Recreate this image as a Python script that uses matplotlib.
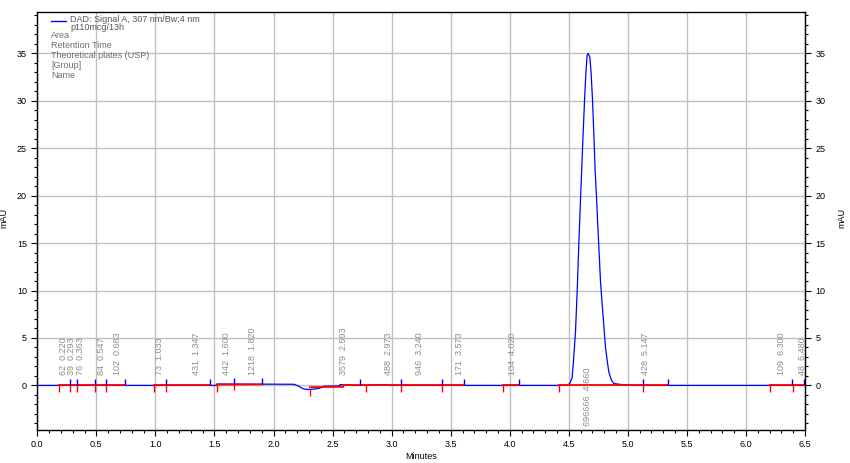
import numpy as np
import matplotlib
matplotlib.use("Agg")
import matplotlib.pyplot as plt
from matplotlib.ticker import MultipleLocator

plt.rcParams['font.family'] = ['Liberation Sans', 'DejaVu Sans']

# Signal trace (minutes, mAU)
sig_t = [0.00, 1.52, 1.521, 2.17, 2.20, 2.23, 2.25, 2.28, 2.31, 2.35, 2.39, 2.42, 2.43,
         2.56, 2.561, 2.64, 2.641, 2.82, 2.821, 2.98, 2.981, 4.486, 4.508, 4.528, 4.542,
         4.556, 4.571, 4.585, 4.599, 4.610, 4.621, 4.633, 4.644, 4.655, 4.664, 4.678,
         4.689, 4.701, 4.712, 4.723, 4.734, 4.746, 4.757, 4.768, 4.782, 4.797, 4.811,
         4.825, 4.839, 4.859, 4.881, 4.938, 5.00, 5.05, 6.50]
sig_y = [0.0, 0.0, 0.15, 0.12, 0.0, -0.2, -0.35, -0.42, -0.42, -0.38, -0.3, -0.15, -0.08,
         -0.06, 0.08, 0.08, 0.0, 0.0, 0.08, 0.08, 0.0, 0.0, 0.2, 0.8, 3.0,
         5.5, 10.0, 15.0, 19.6, 23.0, 26.5, 30.0, 32.8, 34.8, 35.0, 34.6,
         32.9, 30.0, 26.5, 22.6, 20.0, 16.7, 13.9, 11.0, 8.6, 6.2, 4.0,
         2.6, 1.4, 0.6, 0.2, 0.1, 0.05, 0.0, 0.0]

# Integration baselines (start, end, y start, y end)
base_start = [0.18, 0.989, 1.519, 2.31, 2.59, 3.943, 4.418, 6.206]
base_end = [0.743, 1.463, 1.901, 2.59, 3.613, 4.079, 5.342, 6.50]
base_y0 = [0.0, 0.0, 0.08, -0.18, 0.0, 0.0, 0.0, 0.0]
base_y1 = [0.0, 0.0, 0.10, -0.15, 0.0, 0.0, 0.0, 0.0]

red_ticks = [0.18, 0.274, 0.333, 0.486, 0.582, 0.989, 1.087, 1.519, 1.663, 2.31,
             2.786, 3.079, 3.430, 3.943, 4.418, 5.130, 6.206, 6.401]
blue_ticks = [0.274, 0.333, 0.486, 0.582, 0.743, 1.087, 1.463, 1.663, 1.901, 2.732,
              3.079, 3.430, 3.613, 4.079, 5.130, 5.342, 6.392, 6.49]

# Peak annotations
peak_rt = [0.220, 0.293, 0.363, 0.547, 0.683, 1.033, 1.347, 1.600, 1.820, 2.593,
           2.973, 3.240, 3.573, 4.020, 4.660, 5.147, 6.300, 6.480]
peak_area = ['62', '39', '76', '84', '102', '73', '431', '442', '1218', '3579',
             '488', '946', '171', '104', '696666', '428', '109', '48']

info_lines = ['Area', 'Retention Time', 'Theoretical plates (USP)', '[Group]', 'Name']

fig = plt.figure(figsize=(8.5, 4.63), dpi=100)
ax = fig.add_axes([0.0439, 0.0713, 0.9032, 0.9035])

ax.set_xlim(0, 6.5)
ax.set_ylim(-4.7, 39.4)
ax.xaxis.set_major_locator(MultipleLocator(0.5))
ax.xaxis.set_minor_locator(MultipleLocator(0.1))
ax.yaxis.set_major_locator(MultipleLocator(5))
ax.yaxis.set_minor_locator(MultipleLocator(1))
ax.xaxis.set_major_formatter(matplotlib.ticker.FormatStrFormatter('%.1f'))
ax.tick_params(which='both', direction='out', labelsize=6.5, right=True,
               labelright=True, width=0.8)
ax.tick_params(which='major', length=4)
ax.tick_params(which='minor', length=2.5)
ax.grid(True, which='major', color='#c0c0c0', lw=1.0)
ax.set_axisbelow(True)
for s in ax.spines.values():
    s.set_linewidth(1.0)

ax.plot(sig_t, sig_y, color='#0000ff', lw=0.9, zorder=3)

for x0, x1, y0, y1 in zip(base_start, base_end, base_y0, base_y1):
    ax.plot([x0, x1], [y0, y1], color='#ff0000', lw=1.3, zorder=4)

tick_len = 0.65
base_r = np.interp(red_ticks, sig_t, sig_y)
ax.vlines(red_ticks, base_r - tick_len, base_r, color='#ff0000', lw=1.0, zorder=5)
base_b = np.interp(blue_ticks, sig_t, sig_y)
ax.vlines(blue_ticks, base_b, base_b + tick_len, color='#0000ff', lw=1.0, zorder=5)

for rt, area in zip(peak_rt, peak_area):
    label = f'{area}  {rt:.3f}'
    if float(area) > 100000:
        ax.text(rt, 1.85, label, rotation=90, ha='center', va='top',
                fontsize=6.5, color='#8c8c8c', zorder=6)
    else:
        ax.text(rt, 1.1, label, rotation=90, ha='center', va='bottom',
                fontsize=6.5, color='#8c8c8c', zorder=6)

ax.set_xlabel('Minutes', fontsize=6.5, labelpad=2)
fig.text(4 / 850, 1 - 218 / 463, 'mAU', rotation=90, ha='center', va='center', fontsize=6.5)
fig.text(842 / 850, 1 - 218 / 463, 'mAU', rotation=90, ha='center', va='center', fontsize=6.5)

# legend block
fig.add_artist(plt.Line2D([51 / 850, 66 / 850], [1 - 21 / 463, 1 - 21 / 463],
                          color='#0000ff', lw=1.0))
fig.text(70 / 850, 1 - 19 / 463, 'DAD: Signal A, 307 nm/Bw:4 nm', fontsize=6.5,
         color='#555555', va='center')
fig.text(70 / 850, 1 - 27 / 463, 'p110mcg/13h', fontsize=6.5, color='#555555', va='center')
for i, line in enumerate(info_lines):
    fig.text(51 / 850, 1 - (35 + 10 * i) / 463, line, fontsize=6.5,
             color='#6e6e6e', va='center')

fig.savefig('out.png', dpi=100)
